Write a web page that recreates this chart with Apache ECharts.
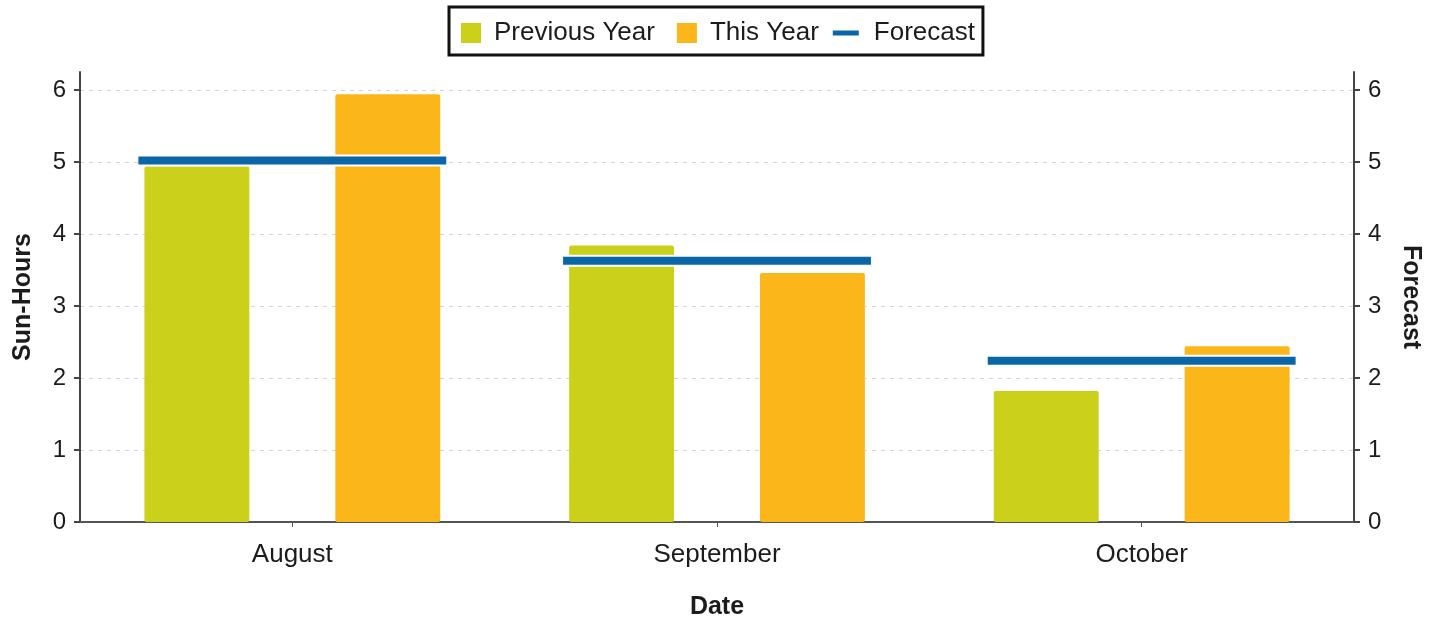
<!DOCTYPE html>
<html>
<head>
<meta charset="utf-8">
<script src="https://cdn.jsdelivr.net/npm/echarts@6/dist/echarts.min.js"></script>
<style>
html,body{margin:0;padding:0;background:#fff;}
#chart{width:1443px;height:617px;}
</style>
</head>
<body>
<div id="chart"></div>
<script>
const categories = ['August', 'September', 'October'];
const previousYear = [4.94, 3.84, 1.82];
const thisYear = [5.94, 3.46, 2.44];
const forecast = [5.02, 3.63, 2.24];
const yTicks = [0, 1, 2, 3, 4, 5, 6];

const FONT = '"Liberation Sans", Arial, sans-serif';
const TXT = '#1c1c1c';
const chart = echarts.init(document.getElementById('chart'));

function yAxisCfg(name, pos, rot) {
  return {
    type: 'value', position: pos, min: 0, max: 6.25,
    name: name, nameLocation: 'middle', nameGap: 44, nameRotate: rot,
    nameTextStyle: { fontFamily: FONT, fontSize: 25, fontWeight: 'bold', color: TXT },
    axisLine: { show: true, lineStyle: { color: '#444', width: 2 } },
    axisTick: { show: true, length: 6, lineStyle: { color: '#444', width: 2 }, customValues: yTicks },
    axisLabel: { fontFamily: FONT, fontSize: 24, color: TXT, margin: 14, customValues: yTicks },
    splitLine: { show: pos === 'left', lineStyle: { color: '#d4d4d4', type: [4, 5], width: 1 } }
  };
}

const squareIcon = 'path://M8,0 H28 V20 H8 Z M0,0 M36,20';
const lineIcon = 'path://M0,0 H26 V5 H0 Z M36,5';

chart.setOption({
  animation: false,
  backgroundColor: '#fff',
  textStyle: { fontFamily: FONT },
  legend: {
    top: 7, left: 449,
    padding: [13, 8, 9, 4],
    borderColor: '#111', borderWidth: 3,
    itemWidth: 36, itemHeight: 20, itemGap: 14,
    textStyle: { fontFamily: FONT, fontSize: 26, color: TXT },
    data: [
      { name: 'Previous Year', icon: squareIcon },
      { name: 'This Year', icon: squareIcon },
      { name: 'Forecast', icon: lineIcon }
    ]
  },
  grid: { left: 80, right: 89, top: 72, bottom: 95, outerBoundsMode: 'none' },
  xAxis: {
    type: 'category', data: categories,
    name: 'Date', nameLocation: 'middle', nameGap: 73,
    nameTextStyle: { fontFamily: FONT, fontSize: 25, fontWeight: 'bold', color: TXT },
    axisLine: { lineStyle: { color: '#555', width: 2 } },
    axisTick: { show: true, alignWithLabel: true, length: 5, lineStyle: { color: '#555' } },
    axisLabel: { fontFamily: FONT, fontSize: 26, color: TXT, margin: 20 }
  },
  yAxis: [yAxisCfg('Sun-Hours', 'left', 90), yAxisCfg('Forecast', 'right', -90)],
  series: [
    { name: 'Previous Year', type: 'bar', data: previousYear, barWidth: '24.7%', barGap: '82%',
      itemStyle: { color: '#cbd01a', borderRadius: 2 } },
    { name: 'This Year', type: 'bar', data: thisYear, barWidth: '24.7%', barGap: '82%',
      itemStyle: { color: '#fbb61a', borderRadius: 2 } },
    { name: 'Forecast', type: 'custom', yAxisIndex: 1, z: 5,
      itemStyle: { color: '#0b66a8' },
      data: forecast.map((v, i) => [i, v]),
      renderItem: function (params, api) {
        const c = api.coord([api.value(0), api.value(1)]);
        const band = api.size([1, 0])[0];
        const half = band * 0.3625;
        return {
          type: 'group',
          children: [
            { type: 'line', shape: { x1: c[0] - half, y1: c[1], x2: c[0] + half, y2: c[1] },
              style: { stroke: '#fff', lineWidth: 12 } },
            { type: 'line', shape: { x1: c[0] - half, y1: c[1], x2: c[0] + half, y2: c[1] },
              style: { stroke: '#0b66a8', lineWidth: 8 } }
          ]
        };
      }
    }
  ]
});
</script>
</body>
</html>
